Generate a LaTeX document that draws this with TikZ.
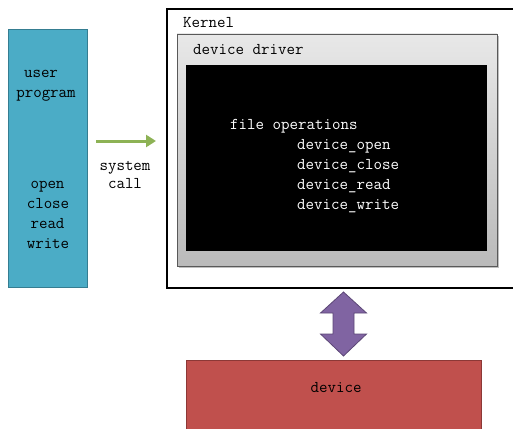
\documentclass[tikz,border=0pt]{standalone}
\usetikzlibrary{arrows.meta}
\definecolor{userfill}{HTML}{4BACC6}
\definecolor{userdraw}{HTML}{357D91}
\definecolor{devfill}{HTML}{C0504D}
\definecolor{devdraw}{HTML}{8C3836}
\definecolor{purfill}{HTML}{8064A2}
\definecolor{purdraw}{HTML}{5C4776}
\definecolor{grn}{HTML}{8DB255}
\tikzset{
  lbl/.style={font=\ttfamily\fontsize{16.5}{18}\selectfont, inner sep=0pt, anchor=base},
  lblw/.style={lbl, anchor=base west},
  wlbl/.style={lblw, text=white},
}
\begin{document}
\begin{tikzpicture}[x=1pt,y=-1pt]
\useasboundingbox (0,0) rectangle (513,428);
% user program
\node[draw=userdraw, line width=1.2pt, fill=userfill, minimum width=79pt, minimum height=258pt, inner sep=0pt, anchor=north west] (user) at (8,29) {};
\node[lbl] (tuser) at (41,77) {user};
\node[lbl] (tprog) at (46,97) {program};
\node[lbl] (topen) at (47.5,188) {open};
\node[lbl] (tclose) at (48,208) {close};
\node[lbl] (tread) at (47.5,228) {read};
\node[lbl] (twrite) at (48,248) {write};
% kernel
\node[draw=black, line width=2pt, fill=white, minimum width=348pt, minimum height=279pt, inner sep=0pt, anchor=north west] (kernel) at (166,8) {};
\node[lblw] (tkernel) at (183,28) {Kernel};
% device driver (shadow + gradient)
\fill[black!25] (179,36) rectangle (499,268);
\shade[top color=black!9, bottom color=black!27, draw=black!65, line width=0.8pt] (177,34) rectangle (497,266);
\node[lblw] (tdrv) at (193,55) {device driver};
\node[fill=black, minimum width=301pt, minimum height=186pt, inner sep=0pt, anchor=north west] (black) at (186,65) {};
\node[wlbl] (tfops) at (230,129) {file operations};
\node[wlbl] (topn) at (297,149) {device\_open};
\node[wlbl] (tcls) at (297,169) {device\_close};
\node[wlbl] (trd) at (297,189) {device\_read};
\node[wlbl] (twr) at (297,209) {device\_write};
% system call arrow
\coordinate (sa) at (96,141);
\coordinate (sb) at (156,141);
\draw[grn, line width=3pt, -{Triangle[length=10pt,width=12pt]}] (sa) -- (sb);
\node[lbl] (tsys) at (125,170) {system};
\node[lbl] (tcall) at (125,188) {call};
% purple double arrow
\draw[fill=purfill, draw=purdraw, line width=0.8pt]
  (343.5,292) -- (366.5,313) -- (354,313) -- (354,334) -- (366.5,334) -- (343.5,356)
  -- (320.5,334) -- (333,334) -- (333,313) -- (320.5,313) -- cycle;
% device
\node[draw=devdraw, line width=1pt, fill=devfill, minimum width=295pt, minimum height=80pt, inner sep=0pt, anchor=north west] (device) at (186,360) {};
\node[lbl] (tdev) at (336,392) {device};
\end{tikzpicture}
\end{document}
